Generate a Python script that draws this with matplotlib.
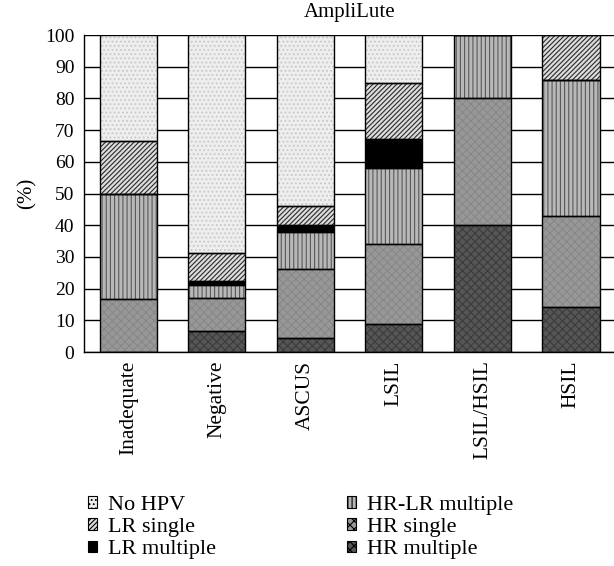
"""
AmpliLute: HPV type distribution by cytology category (stacked %).
"""

import numpy as np
import matplotlib.pyplot as plt

plt.rcParams["font.family"] = ["Liberation Serif", "DejaVu Serif"]
plt.rcParams["hatch.linewidth"] = 0.8

categories = ["Inadequate", "Negative", "ASCUS", "LSIL", "LSIL/HSIL", "HSIL"]

# Percentages, bottom of stack first
hr_multiple = [0.0, 6.6, 4.3, 9.0, 40.0, 14.3]
hr_single = [16.7, 10.5, 21.8, 25.0, 40.0, 28.6]
hr_lr_multiple = [33.3, 4.2, 11.8, 24.0, 20.0, 42.9]
lr_multiple = [0.0, 1.2, 2.3, 9.2, 0.0, 0.0]
lr_single = [16.7, 8.6, 6.0, 17.6, 0.0, 14.2]
no_hpv = [33.3, 68.9, 53.8, 15.2, 0.0, 0.0]

series = [
    ("HR multiple", hr_multiple),
    ("HR single", hr_single),
    ("HR-LR multiple", hr_lr_multiple),
    ("LR multiple", lr_multiple),
    ("LR single", lr_single),
    ("No HPV", no_hpv),
]

# face colour, hatch, hatch colour
styles = {
    "No HPV": ("#eeeeee", "....", "#c8c8c8"),
    "LR single": ("#dcdcdc", "///////", "#2a2a2a"),
    "LR multiple": ("#000000", "", "#000000"),
    "HR-LR multiple": ("#b8b8b8", "||||", "#585858"),
    "HR single": ("#989898", "xxxx", "#888888"),
    "HR multiple": ("#565656", "xxxx", "#3c3c3c"),
}

fig = plt.figure(figsize=(6.14, 5.66), dpi=100)
ax = fig.add_axes([0.137, 0.378, 0.865, 0.560])

x = np.arange(len(categories))
width = 0.645
bottom = np.zeros(len(categories))
handles = {}
for name, vals in series:
    vals = np.array(vals)
    face, hatch, hcol = styles[name]
    ax.bar(x, vals, width, bottom=bottom, color=face, hatch=hatch,
           edgecolor=hcol, linewidth=0, zorder=2)
    ax.bar(x, vals, width, bottom=bottom, fill=False, edgecolor="black",
           linewidth=1.0, zorder=3)
    handles[name] = plt.Rectangle((0, 0), 1, 1, facecolor=face, hatch=hatch,
                                  edgecolor="black", linewidth=0.8)
    bottom += vals

ax.set_xlim(-0.5, 5.5)
ax.set_ylim(0, 100)
ax.set_yticks(np.arange(0, 101, 10))
ax.set_xticks(x)
ax.set_xticklabels(categories, rotation=90, fontsize=15.5)
ax.tick_params(axis="y", length=0, pad=7, labelsize=14)
ax.tick_params(axis="x", length=0, pad=6)
ax.yaxis.grid(True, color="black", linewidth=1.0)
ax.set_axisbelow(True)
for side in ["right", "top"]:
    ax.spines[side].set_visible(False)
ax.spines["left"].set_linewidth(1.0)
ax.spines["bottom"].set_linewidth(1.0)
ax.set_ylabel("(%)", fontsize=15, labelpad=6)
ax.set_title("AmpliLute", fontsize=15, pad=13)

left_names = ["No HPV", "LR single", "LR multiple"]
right_names = ["HR-LR multiple", "HR single", "HR multiple"]
legend_kw = dict(frameon=False, loc="upper left", fontsize=16,
                 handlelength=0.42, handleheight=0.42, handletextpad=0.5,
                 labelspacing=0.15, borderpad=0, borderaxespad=0)
fig.legend([handles[n] for n in left_names], left_names,
           bbox_to_anchor=(0.143, 0.124), **legend_kw)
fig.legend([handles[n] for n in right_names], right_names,
           bbox_to_anchor=(0.565, 0.124), **legend_kw)

plt.savefig("out.png", dpi=100)
